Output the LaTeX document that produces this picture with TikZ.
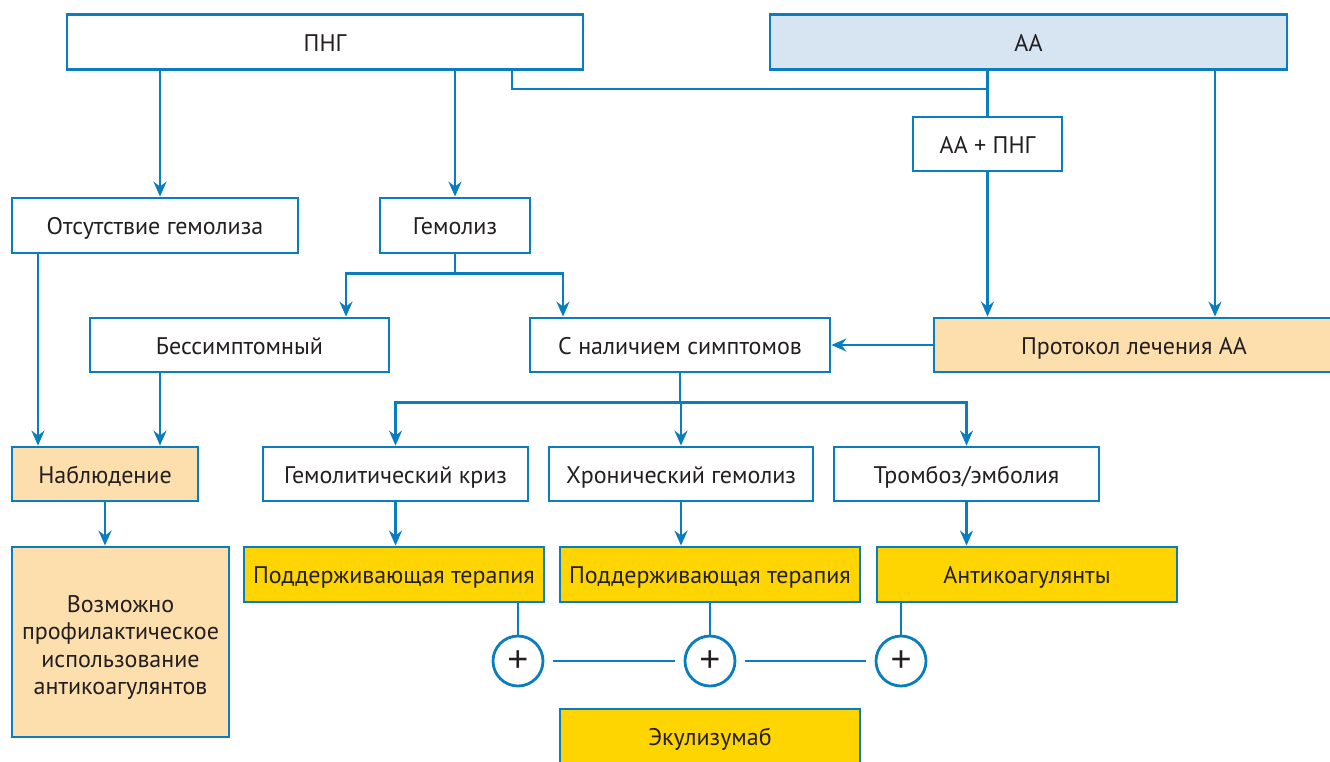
\documentclass[tikz,border=0pt]{standalone}
\usepackage{fontspec}
\setmainfont{PT Sans}
\newfontfamily\plusfont{Liberation Sans}
\usetikzlibrary{arrows.meta}
\definecolor{lblue}{HTML}{0A7DBE}
\definecolor{pale}{HTML}{D7E4F1}
\definecolor{peach}{HTML}{FDDEAD}
\definecolor{gold}{HTML}{FFD500}
\definecolor{ink}{HTML}{231F20}
\begin{document}
\begin{tikzpicture}[x=1pt,y=-1pt,line width=2.8pt,
	blk/.style={draw=lblue,fill=white,inner sep=0pt,minimum height=55pt,text=ink,
		align=center,text height=18pt,text depth=0pt,font=\fontsize{24}{27.5}\selectfont},
	ln/.style={draw=lblue},
	arr/.style={draw=lblue,-{Stealth[length=15pt,width=13pt,inset=5pt]}},
	plus/.style={circle,draw=lblue,fill=white,minimum size=50pt,inner sep=0pt,text=ink,
		font=\plusfont\fontsize{36}{36}\selectfont}]
	\useasboundingbox (0,0) rectangle (1330,761);
	\node[blk,minimum width=516] (png) at (325,42) {ПНГ};
	\node[blk,minimum width=517,fill=pale] (aa) at (1028.5,42) {АА};
	\node[blk,minimum width=149,minimum height=54] (aapng) at (987.5,144) {АА + ПНГ};
	\node[blk,minimum width=286] (otsut) at (155,225.5) {Отсутствие гемолиза};
	\node[blk,minimum width=150] (gemol) at (455,225.5) {Гемолиз};
	\node[blk,minimum width=299,minimum height=54] (bessim) at (239.5,345) {Бессимптомный};
	\node[blk,minimum width=300,minimum height=54] (simpt) at (680,345) {С наличием симптомов};
	\node[blk,minimum width=400,minimum height=54,fill=peach] (protok) at (1134,345) {Протокол лечения АА};
	\node[blk,minimum width=186,minimum height=54,fill=peach] (nabl) at (105,474) {Наблюдение};
	\node[blk,minimum width=217,minimum height=190,text height=105pt,fill=peach] (vozm) at (120.5,642)
		{Возможно\\профилактическое\\использование\\антикоагулянтов};
	\node[blk,minimum width=265,minimum height=54] (kriz) at (395.5,474) {Гемолитический криз};
	\node[blk,minimum width=264,minimum height=54] (hron) at (681,474) {Хронический гемолиз};
	\node[blk,minimum width=265,minimum height=54] (tromb) at (966.5,474) {Тромбоз/эмболия};
	\node[blk,minimum width=300,fill=gold] (pt1) at (394,574.5) {Поддерживающая терапия};
	\node[blk,minimum width=300,fill=gold] (pt2) at (710,574.5) {Поддерживающая терапия};
	\node[blk,minimum width=300,fill=gold] (antik) at (1027,574.5) {Антикоагулянты};
	\node[blk,minimum width=300,fill=gold] (ekul) at (710,736.5) {Экулизумаб};
	\foreach \n/\x in {c1/518,c2/710,c3/901}
		\node[plus] (\n) at (\x,661) {+};
	% upper part
	\draw[arr] (png.south -| 160,0) -- (otsut.north -| 160,0);
	\draw[arr] (gemol.north |- png.south) -- (gemol.north);
	\draw[ln] (png.south -| 512,0) |- (aapng.north |- 0,89);
	\draw[ln] (aa.south -| aapng.north) -- (aapng.north);
	\draw[arr] (aapng.south) -- (aapng.south |- protok.north);
	\draw[arr] (aa.south -| 1215,0) -- (protok.north -| 1215,0);
	\draw[arr] (protok.west) -- (simpt.east);
	\draw[arr] (gemol.south) -- ++(0,19) -| ([xshift=106.5pt]bessim.north);
	\draw[arr] (gemol.south) -- ++(0,19) -| ([xshift=-117pt]simpt.north);
	\draw[arr] (otsut.south -| 38,0) -- (nabl.north -| 38,0);
	\draw[arr] (bessim.south -| 160,0) -- (nabl.north -| 160,0);
	\draw[arr] (nabl.south) -- (vozm.north -| nabl.south);
	% symptoms
	\foreach \t/\r in {kriz/pt1,hron/pt2,tromb/antik}{
		\draw[arr] (simpt.south) -- ++(0,29) -| (\t.north);
		\draw[arr] (\t.south) -- (\t.south |- \r.north);
	}
	\foreach \r/\c in {pt1/c1,pt2/c2,antik/c3}
		\draw[ln] (\c.north |- \r.south) -- (\c.north);
	\draw[ln,shorten <=9pt,shorten >=9pt] (c1) -- (c2);
	\draw[ln,shorten <=9pt,shorten >=9pt] (c2) -- (c3);
\end{tikzpicture}
\end{document}
